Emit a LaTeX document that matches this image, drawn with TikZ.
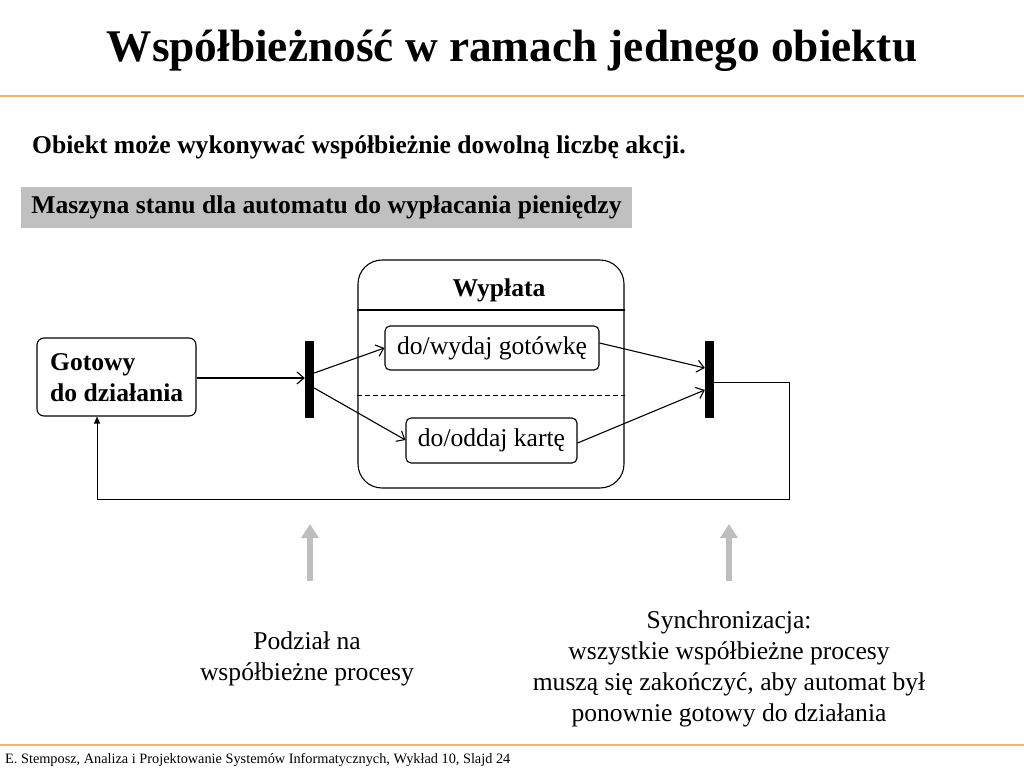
\documentclass[tikz,border=0pt]{standalone}
\usepackage{fontspec}
\setmainfont{Liberation Serif}
\usetikzlibrary{arrows.meta}
\definecolor{orangeline}{HTML}{F2B766}
\definecolor{boxgray}{HTML}{C0C0C0}
\definecolor{arrgray}{HTML}{BEBEBE}
\begin{document}
\begin{tikzpicture}[x=1pt,y=-1pt,
  state/.style={draw, line width=1.1pt, rounded corners=7pt, inner sep=0pt},
  bar/.style={fill=black, draw=none, minimum width=9pt, minimum height=77pt, inner sep=0pt},
  flow/.style={line width=1.1pt, -{Straight Barb[length=7pt,width=12pt]}},
  hint/.style={line width=5.5pt, arrgray, -{Triangle[length=14pt,width=17pt]}},
  lbl/.style={font=\fontsize{25.6}{31}\selectfont, align=center, inner sep=0pt}
]
\useasboundingbox (0,0) rectangle (1024,768);
% header and footer
\node[font=\bfseries\fontsize{45.3}{48}\selectfont, anchor=center] (title) at (512,51) {Współbieżność w ramach jednego obiektu};
\draw[orangeline, line width=1.5pt] (0,96) -- (1024,96);
\draw[orangeline, line width=1.5pt] (0,745) -- (1024,745);
\node[font=\fontsize{14.3}{15}\selectfont, anchor=west, inner sep=0pt] (foot) at (5,760) {E. Stemposz, Analiza i Projektowanie Systemów Informatycznych, Wykład 10, Slajd 24};
% subtitle
\node[font=\bfseries\fontsize{25.6}{28}\selectfont, anchor=west, inner sep=0pt] (sub) at (32,147) {Obiekt może wykonywać współbieżnie dowolną liczbę akcji.};
\node[fill=boxgray, font=\bfseries\fontsize{25.6}{28}\selectfont, minimum width=611pt, minimum height=41pt, inner sep=0pt] (hdr) at (326.5,207.5) {Maszyna stanu dla automatu do wypłacania pieniędzy};
% states
\node[state, minimum width=159pt, minimum height=78pt] (ready) at (116.5,377) {};
\node[font=\bfseries\fontsize{25.6}{31}\selectfont, align=left, anchor=west, inner sep=0pt] (readytext) at (50,378) {Gotowy\\do działania};
\node[bar] (fork) at (309.5,379.5) {};
\node[bar] (join) at (709.5,379.5) {};
% composite
\node[draw, line width=1.1pt, rounded corners=24pt, minimum width=266pt, minimum height=228pt, inner sep=0pt] (comp) at (491,374) {};
\node[font=\bfseries\fontsize{25.6}{28}\selectfont, inner sep=0pt] (comptitle) at (499,290) {Wypłata};
\draw[line width=1.1pt] (comp.west |- 0,310) -- (comp.east |- 0,310);
\draw[line width=1pt, dashed, dash pattern=on 5pt off 3pt] (comp.west |- 0,395) -- (comp.east |- 0,395);
\node[state, rounded corners=5pt, minimum width=214pt, minimum height=44pt, font=\fontsize{25.6}{28}\selectfont] (cash) at (492,348) {do/wydaj gotówkę};
\node[state, rounded corners=5pt, minimum width=171pt, minimum height=45pt, font=\fontsize{25.6}{28}\selectfont] (card) at (491.5,440.5) {do/oddaj kartę};
% transitions
\draw[flow] (ready.east |- 0,378) -- (fork.west |- 0,378);
\draw[flow] (fork.east |- 0,373) -- (cash.west |- 0,348);
\draw[flow] (fork.east |- 0,388) -- (card.west |- 0,440);
\draw[flow] (cash.east |- 0,343) -- (join.west |- 0,368);
\draw[flow] (card.east |- 0,443) -- (join.west |- 0,390);
\coordinate (r1) at (789,382);
\coordinate (r2) at (789,499);
\coordinate (r3) at (97,499);
\draw[line width=1pt, -{Triangle[length=7pt,width=6pt]}] (join.east |- 0,382) -- (r1) -- (r2) -- (r3) -- (ready.south -| r3);
% hints
\coordinate (h1s) at (310,581);
\coordinate (h1e) at (310,524);
\coordinate (h2s) at (729,581);
\coordinate (h2e) at (729,524);
\draw[hint] (h1s) -- (h1e);
\draw[hint] (h2s) -- (h2e);
\node[lbl] (split) at (307,659) {Podział na\\ współbieżne procesy};
\node[lbl] (sync) at (729,669) {Synchronizacja:\\wszystkie współbieżne procesy\\ muszą się zakończyć, aby automat był\\ponownie gotowy do działania};
\end{tikzpicture}
\end{document}
